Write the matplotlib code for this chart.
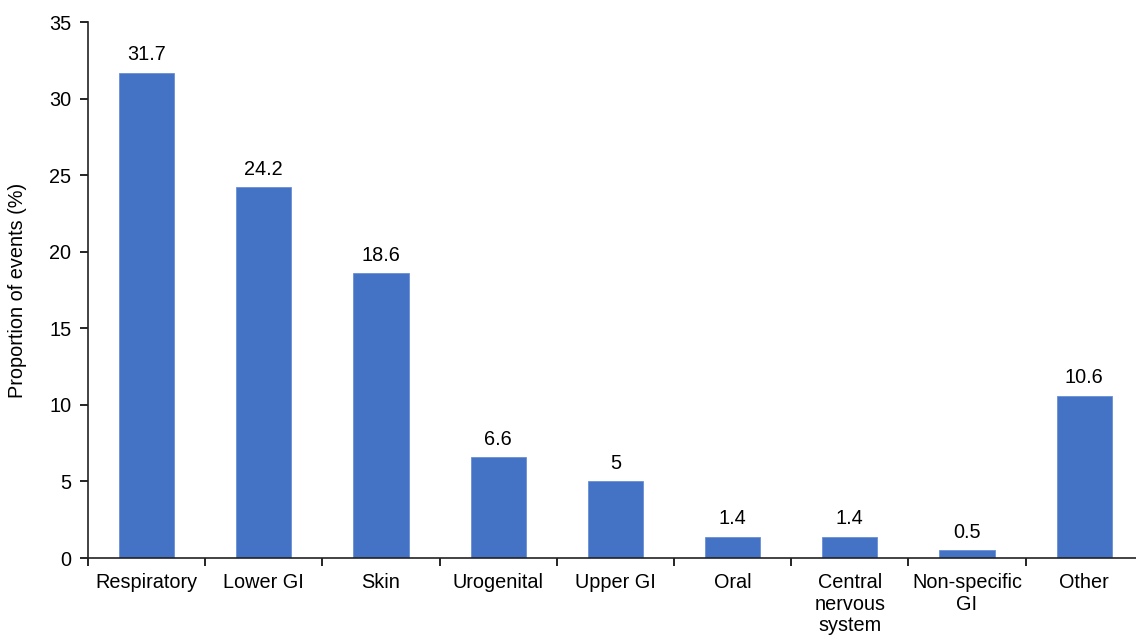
import numpy as np
import matplotlib
matplotlib.use('Agg')
import matplotlib.pyplot as plt
from matplotlib.ticker import FixedLocator

categories = ['Respiratory', 'Lower GI', 'Skin', 'Urogenital', 'Upper GI', 'Oral',
              'Central\nnervous\nsystem', 'Non-specific\nGI', 'Other']
values = [31.7, 24.2, 18.6, 6.6, 5, 1.4, 1.4, 0.5, 10.6]
labels = ['31.7', '24.2', '18.6', '6.6', '5', '1.4', '1.4', '0.5', '10.6']

plt.rcParams['font.family'] = ['Liberation Sans', 'DejaVu Sans']
fs = 14.3

fig = plt.figure(figsize=(11.36, 6.36), dpi=100)
ax = fig.add_axes([88 / 1136, 1 - 558 / 636, 9 * 117.2 / 1136, 536 / 636])

x = np.arange(len(categories))
bars = ax.bar(x, values, width=0.47, color='#4472C4', edgecolor='#6A8FD6', linewidth=0.6)
for xi, v, lab in zip(x, values, labels):
    ax.text(xi, v + 0.55, lab, ha='center', va='bottom', fontsize=fs)

ax.set_xlim(-0.5, len(categories) - 0.5)
ax.set_ylim(0, 35)
ax.set_yticks(np.arange(0, 36, 5))
ax.set_xticks(x)
ax.set_xticklabels(categories, fontsize=fs, linespacing=1.15)
ax.tick_params(axis='x', which='major', length=0, pad=11)
ax.xaxis.set_minor_locator(FixedLocator(np.arange(-0.5, len(categories), 1)))
ax.tick_params(axis='x', which='minor', length=6, width=1.2, direction='out')
ax.tick_params(axis='y', labelsize=fs, length=6, width=1.2, direction='out', pad=6)
ax.set_ylabel('Proportion of events (%)', fontsize=fs, labelpad=16)

for s in ['top', 'right']:
    ax.spines[s].set_visible(False)
for s in ['left', 'bottom']:
    ax.spines[s].set_linewidth(1.2)
    ax.spines[s].set_color('#222222')

fig.savefig('out.png', dpi=100)
